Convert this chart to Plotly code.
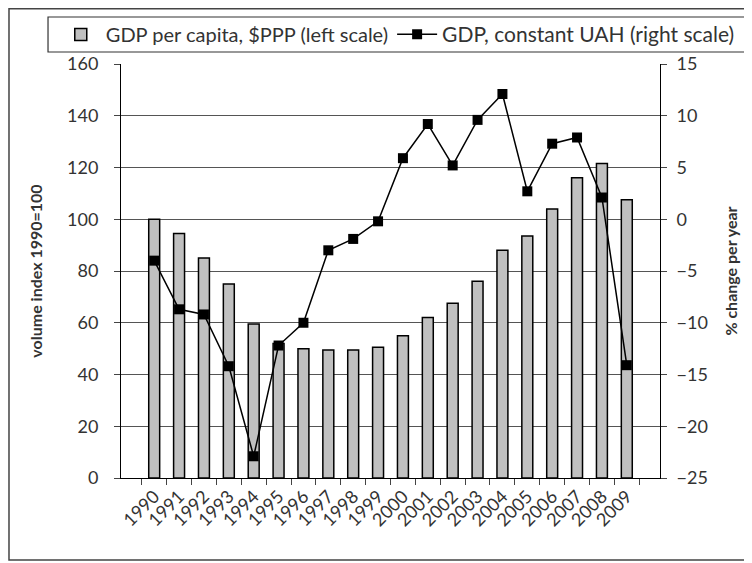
import plotly.graph_objects as go

# Dados
anos = [str(a) for a in range(1990, 2010)]
pib_per_capita = [100, 94.5, 85, 75, 59.5, 52, 50, 49.5, 49.5, 50.5,
                  55, 62, 67.5, 76, 88, 93.5, 104, 116, 121.5, 107.5]
pib_uah = [-4.0, -8.7, -9.2, -14.2, -22.9, -12.2, -10.0, -3.0, -1.9, -0.2,
           5.9, 9.2, 5.2, 9.6, 12.1, 2.7, 7.3, 7.9, 2.1, -14.1]

fonte = "Lato"

fig = go.Figure()

fig.add_trace(go.Bar(x=anos, y=pib_per_capita, name="GDP per capita, $PPP (left scale)",
                     marker=dict(color="#c0c0c0", line=dict(color="black", width=1.5)),
                     legend="legend"))
fig.add_trace(go.Scatter(x=anos, y=pib_uah, yaxis="y2", mode="lines+markers",
                         name="GDP, constant UAH (right scale)",
                         line=dict(color="black", width=1.5),
                         marker=dict(symbol="square", size=10, color="black"),
                         legend="legend2"))

# duas legendas lado a lado, a caixa é desenhada como shape
leg = dict(orientation="h", yanchor="middle", y=1.071, xanchor="left",
           borderwidth=0, bgcolor="rgba(0,0,0,0)", itemwidth=40)

# a página tem margem de 8px no body, por isso a figura é 744x555
fig.update_layout(
    width=744, height=555,
    margin=dict(l=113, r=92, t=56, b=85, autoexpand=False),
    plot_bgcolor="white", paper_bgcolor="white",
    font=dict(family=fonte, size=18, color="#333"),
    bargap=0.56,
    showlegend=True,
    legend=dict(leg, x=-0.121, font=dict(size=20)),
    legend2=dict(leg, x=0.503, font=dict(size=21)),
    xaxis=dict(type="category", tickangle=-45, showline=True, linecolor="black",
               linewidth=1, ticks="outside", tickson="boundaries", ticklen=6,
               tickfont=dict(size=18), showgrid=False, automargin=False),
    yaxis=dict(range=[0, 160], dtick=20, showline=True, linecolor="black",
               ticks="outside", ticklen=6, ticklabelstandoff=12,
               showgrid=True, gridcolor="#555",
               gridwidth=1, zeroline=False, automargin=False,
               title=dict(text="<b>volume index 1990=100</b>", font=dict(size=16), standoff=20)),
    yaxis2=dict(range=[-25, 15], dtick=5, overlaying="y", side="right",
                showline=True, linecolor="black", ticks="outside", ticklen=6,
                ticklabelstandoff=6,
                showgrid=False, zeroline=False, automargin=False,
                title=dict(text="<b>% change per year</b>", font=dict(size=16), standoff=18)),
)

# caixa da legenda
fig.add_shape(type="rect", xref="paper", yref="paper", x0=-0.1354, x1=1.163, y0=1.029, y1=1.1135,
              line=dict(color="#333", width=1.2))
# moldura externa do gráfico (o lado direito fica fora da imagem)
fig.add_shape(type="rect", xref="paper", yref="paper", x0=-0.2078, x1=1.3, y0=-0.198, y1=1.1336,
              line=dict(color="#444", width=1.5))

fig.write_html("out.html")
